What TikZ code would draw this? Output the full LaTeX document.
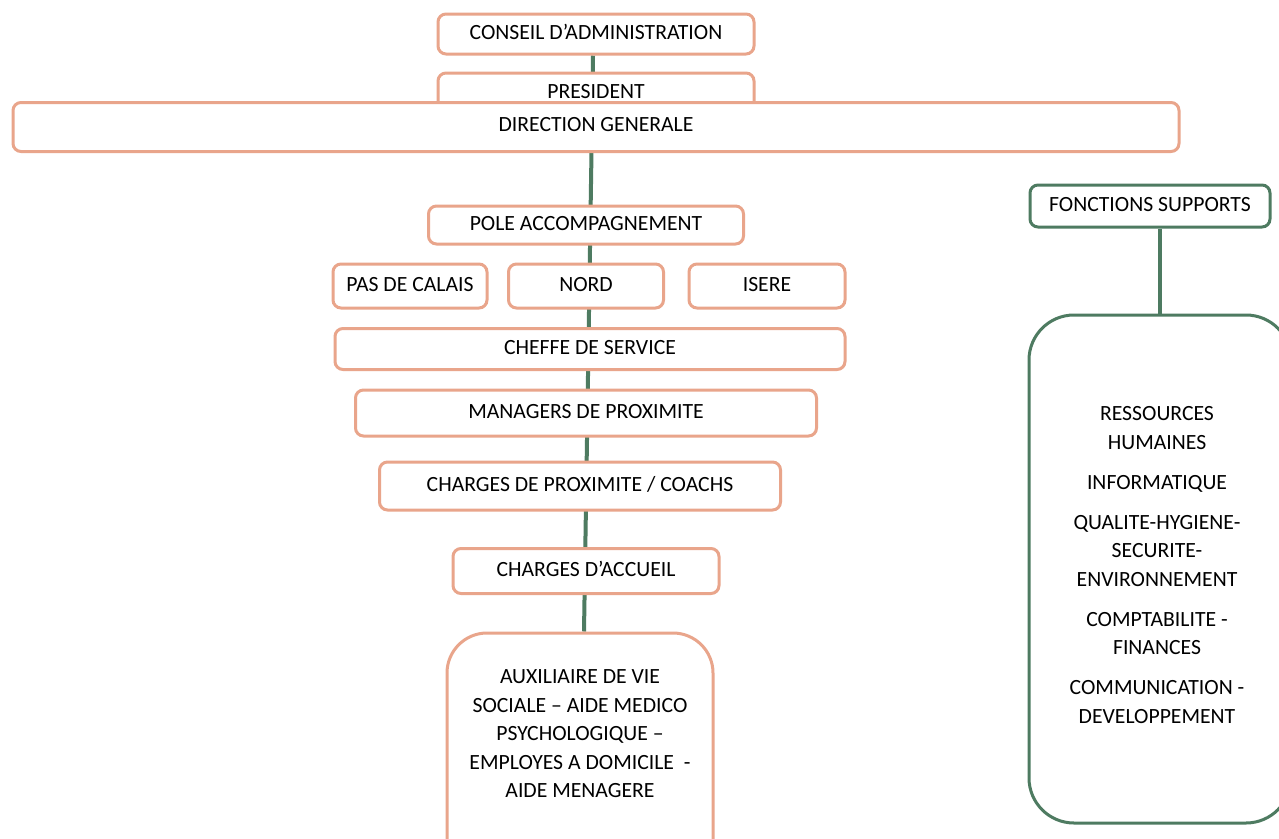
\documentclass[tikz,border=0pt]{standalone}
\usepackage{fontspec}
\setmainfont{Carlito}
\usetikzlibrary{backgrounds, calc}
\definecolor{boxsalmon}{HTML}{E9A58B}
\definecolor{linkgreen}{HTML}{4E7B61}
\newcommand{\orgfont}{\fontsize{21.7}{28.5}\selectfont}

\begin{document}
\begin{tikzpicture}[x=1pt, y=-1pt,
  orgbox/.style={draw=boxsalmon, line width=3pt, rounded corners=8pt, fill=white,
    font=\orgfont, inner sep=0pt, text depth=4pt},
  supbox/.style={orgbox, draw=linkgreen},
  link/.style={draw=linkgreen, line width=4pt}]
  \useasboundingbox (0,0) rectangle (1279,838);

  % Gouvernance
  \node[orgbox, minimum width=316, minimum height=40] (conseil) at (596,34) {CONSEIL D’ADMINISTRATION};
  \node[orgbox, minimum width=316, minimum height=40] (president) at (596,93) {PRESIDENT};
  \node[orgbox, minimum width=1166, minimum height=49, text depth=6pt] (direction) at (596,127) {DIRECTION GENERALE};

  % Pole accompagnement
  \node[orgbox, minimum width=315, minimum height=38] (pole) at (586,225) {POLE ACCOMPAGNEMENT};
  \node[orgbox, minimum width=154, minimum height=44] (pasdecalais) at (410,286) {PAS DE CALAIS};
  \node[orgbox, minimum width=155, minimum height=44] (nord) at (586,286) {NORD};
  \node[orgbox, minimum width=156, minimum height=44] (isere) at (767,286) {ISERE};
  \node[orgbox, minimum width=510, minimum height=41] (cheffe) at (590,349) {CHEFFE DE SERVICE};
  \node[orgbox, minimum width=461, minimum height=46] (managers) at (586,413) {MANAGERS DE PROXIMITE};
  \node[orgbox, minimum width=401, minimum height=48] (charges) at (580,486) {CHARGES DE PROXIMITE / COACHS};
  \node[orgbox, minimum width=266, minimum height=45] (accueil) at (586,571) {CHARGES D’ACCUEIL};
  \node[orgbox, rounded corners=40pt, minimum width=266, minimum height=250] (aux) at (580,758) {};
  \node[font=\orgfont, align=center, inner sep=0pt] (auxtext) at (580,734)
    {AUXILIAIRE DE VIE\\SOCIALE – AIDE MEDICO\\PSYCHOLOGIQUE –\\EMPLOYES A DOMICILE \ -\\AIDE MENAGERE};

  % Fonctions supports
  \node[supbox, minimum width=240, minimum height=42] (supports) at (1150,206) {FONCTIONS SUPPORTS};
  \node[supbox, rounded corners=45pt, minimum width=262, minimum height=508] (supportlist) at (1160,569) {};
  \node[font=\orgfont, align=center, inner sep=0pt] (supporttext) at (1157,565)
    {RESSOURCES\\HUMAINES\\[11.5pt]INFORMATIQUE\\[11.5pt]QUALITE-HYGIENE-\\SECURITE-\\ENVIRONNEMENT\\[11.5pt]COMPTABILITE -\\FINANCES\\[11.5pt]COMMUNICATION -\\DEVELOPPEMENT};

  % Liens
  \begin{scope}[on background layer]
    \fill[white] (0,0) rectangle (1279,838);
    \draw[link] ([xshift=-3pt]conseil.south) -- ([xshift=4pt]aux.north);
    \draw[link] (supportlist.north |- supports.south) -- (supportlist.north);
  \end{scope}
\end{tikzpicture}
\end{document}
